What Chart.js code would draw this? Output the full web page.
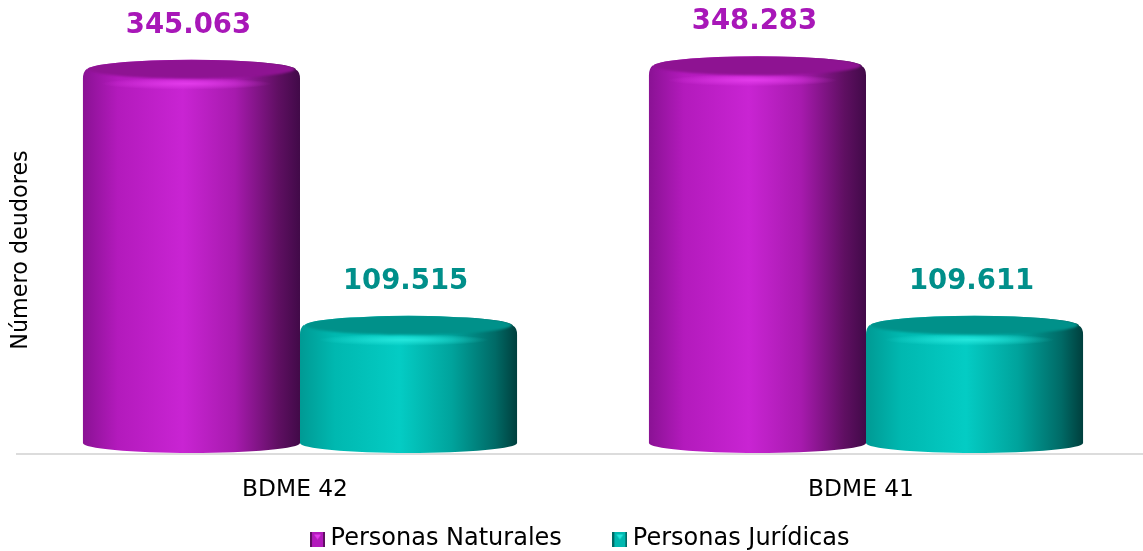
<!DOCTYPE html>
<html>
<head>
<meta charset="utf-8">
<title>Número deudores</title>
<script src="https://cdn.jsdelivr.net/npm/chart.js@4"></script>
<style>
    html, body { margin: 0; padding: 0; background: #fff; overflow: hidden; }
    #wrap { width: 1143px; height: 551px; overflow: hidden; }
</style>
</head>
<body>
<div id="wrap"><canvas id="deudores-chart" width="1160" height="551"></canvas></div>
<script>
// Values
const categories = ['BDME 42', 'BDME 41'];
const personasNaturales = [345063, 348283];
const personasJuridicas = [109515, 109611];
const seriesNames = ['Personas Naturales', 'Personas Jurídicas'];
const axisTitle = 'Número deudores';
// The floor of the 3D cylinders sits a little above the axis line
const yMin = -6500;
const yMax = 411000;

const fontName = '"DejaVu Sans", Verdana, sans-serif';

// Colour sets for the two cylinders
const purple = {
    label: '#a817b8', cap: '#8e1392', glow: '#e23bea',
    stops: ['#8a1294', '#b31abc', '#c924d3', '#a71aae', '#5f0f62', '#410a48']
};
const teal = {
    label: '#008f8a', cap: '#00918a', glow: '#25e6dc',
    stops: ['#009a94', '#00b8b0', '#04ccc4', '#00a39c', '#006a66', '#003f3d']
};

function bodyGradient(ctx, left, right, stops) {
    const g = ctx.createLinearGradient(left, 0, right, 0);
    const at = [0, 0.16, 0.46, 0.7, 0.9, 1];
    stops.forEach((c, i) => g.addColorStop(at[i], c));
    return g;
}

// Small bevelled square for the legend
function legendIcon(c) {
    const icon = document.createElement('canvas');
    icon.width = 15;
    icon.height = 15;
    const x = icon.getContext('2d');
    x.fillStyle = c.stops[1];
    x.fillRect(0, 0, 15, 15);
    x.fillStyle = c.stops[4];
    x.fillRect(0, 0, 2, 15);
    x.fillRect(13, 0, 2, 15);
    x.fillStyle = c.glow;
    x.beginPath();
    x.moveTo(4, 3);
    x.lineTo(11, 3);
    x.lineTo(7.5, 8);
    x.fill();
    return icon;
}

// Draws each bar as a cylinder from the bar element's own position, then its value
const cylinders = {
    id: 'cylinders',
    afterLayout(chart) {
        // legend text sits lower than its big item padding would allow
        chart.legend.top -= 48;
    },
    afterDatasetsDraw(chart) {
        const ctx = chart.ctx;
        chart.data.datasets.forEach((ds, i) => {
            const c = ds.colors;
            chart.getDatasetMeta(i).data.forEach((bar, j) => {
                const rx = bar.width / 2;
                const left = bar.x - rx;
                const right = bar.x + rx;
                const top = bar.y;
                const foot = bar.base - 4;

                ctx.save();
                // body with rounded shoulder and elliptical foot
                ctx.beginPath();
                ctx.moveTo(left, foot);
                ctx.lineTo(left, top + 7);
                ctx.quadraticCurveTo(left, top, left + 4, top - 3);
                ctx.ellipse(bar.x, top - 2, rx - 4, 10, 0, Math.PI, Math.PI * 2);
                ctx.quadraticCurveTo(right, top, right, top + 7);
                ctx.lineTo(right, foot);
                ctx.ellipse(bar.x, foot, rx, 10, 0, 0, Math.PI);
                ctx.closePath();
                ctx.fillStyle = bodyGradient(ctx, left, right, c.stops);
                ctx.fill();
                ctx.clip();

                // highlight on the shoulder
                const glow = ctx.createRadialGradient(0, 0, 0, 0, 0, 1);
                glow.addColorStop(0, c.glow);
                glow.addColorStop(1, c.glow + '00');
                ctx.save();
                ctx.translate(bar.x - 5, top + 12);
                ctx.scale(85, 6);
                ctx.fillStyle = glow;
                ctx.beginPath();
                ctx.arc(0, 0, 1, 0, Math.PI * 2);
                ctx.fill();
                ctx.restore();

                // flat top of the cylinder
                ctx.filter = 'blur(1px)';
                ctx.beginPath();
                ctx.ellipse(bar.x, top - 3, rx - 5, 10, 0, 0, Math.PI * 2);
                ctx.fillStyle = c.cap;
                ctx.fill();
                ctx.restore();

                // value above the cylinder
                ctx.save();
                ctx.font = 'bold 27.5px ' + fontName;
                ctx.fillStyle = c.label;
                ctx.textAlign = 'center';
                ctx.textBaseline = 'middle';
                ctx.fillText(ds.data[j].toString().replace(/(\d)(?=\d{3}$)/, '$1.'), bar.x - 3, top - 46);
                ctx.restore();
            });
        });

        // y axis title
        ctx.save();
        ctx.translate(21, 250);
        ctx.rotate(-Math.PI / 2);
        ctx.font = '22.3px ' + fontName;
        ctx.fillStyle = '#000';
        ctx.textAlign = 'center';
        ctx.textBaseline = 'middle';
        ctx.fillText(axisTitle, 0, 0);
        ctx.restore();
    }
};

const ctx = document.getElementById('deudores-chart').getContext('2d');
new Chart(ctx, {
    type: 'bar',
    data: {
        labels: categories,
        datasets: [
            { label: seriesNames[0], data: personasNaturales, colors: purple, backgroundColor: 'rgba(0,0,0,0)', pointStyle: legendIcon(purple) },
            { label: seriesNames[1], data: personasJuridicas, colors: teal, backgroundColor: 'rgba(0,0,0,0)', pointStyle: legendIcon(teal) }
        ]
    },
    options: {
        responsive: false,
        animation: false,
        layout: { padding: { left: 17, right: 11, top: 0, bottom: -58 } },
        datasets: { bar: { barPercentage: 1, categoryPercentage: 0.767 } },
        plugins: {
            tooltip: { enabled: false },
            legend: {
                position: 'bottom',
                labels: {
                    usePointStyle: true,
                    boxWidth: 2,
                    boxHeight: 15,
                    padding: 57,
                    color: '#000',
                    font: { family: fontName, size: 24 }
                }
            }
        },
        scales: {
            x: {
                grid: { display: false },
                border: { color: '#dcdcdc', width: 2 },
                ticks: { color: '#000', padding: 14, labelOffset: -5, font: { family: fontName, size: 23.3 } }
            },
            y: { display: false, min: yMin, max: yMax }
        }
    },
    plugins: [cylinders]
});
</script>
</body>
</html>
